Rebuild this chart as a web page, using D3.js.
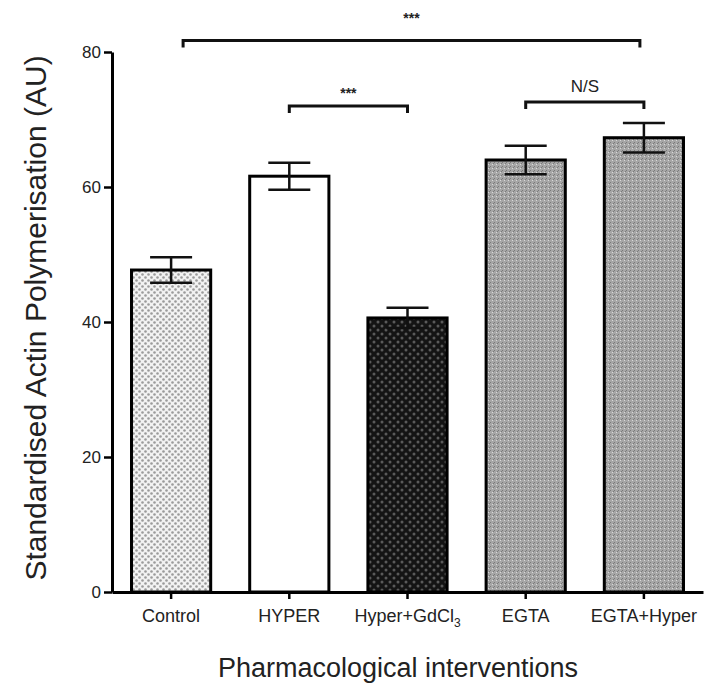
<!DOCTYPE html>
<html>
<head>
<meta charset="utf-8">
<script src="https://cdn.jsdelivr.net/npm/d3@7"></script>
<style>
  body { margin: 0; background: #fff; }
  svg text { font-family: "Liberation Sans", Arial, sans-serif; fill: #222; }
</style>
</head>
<body>
<div id="chart"></div>
<script>
// 数据
const categories = ['Control', 'HYPER', 'Hyper+GdCl3', 'EGTA', 'EGTA+Hyper'];
const means = [47.7, 61.6, 40.6, 64.0, 67.3];
const sems = [1.9, 2.0, 1.5, 2.1, 2.2];
const yTicks = [0, 20, 40, 60, 80];
// 显著性标记: [起点类别, 终点类别, 文字, y值]
const brackets = [
    ['Control', 'EGTA+Hyper', '***', 81.7],
    ['HYPER', 'Hyper+GdCl3', '***', 72.0],
    ['EGTA', 'EGTA+Hyper', 'N/S', 72.6]
];
const fills = ['url(#p-light)', '#ffffff', 'url(#p-dark)', 'url(#p-grey)', 'url(#p-grey)'];

const width = 712, height = 692;
const svg = d3.select('#chart').append('svg')
    .attr('width', width)
    .attr('height', height);

// 填充图案
const defs = svg.append('defs');
const light = defs.append('pattern').attr('id', 'p-light')
    .attr('width', 6).attr('height', 6).attr('patternUnits', 'userSpaceOnUse');
light.append('rect').attr('width', 6).attr('height', 6).attr('fill', '#f2f2f2');
light.append('circle').attr('cx', 1.5).attr('cy', 1.5).attr('r', 1.3).attr('fill', '#9a9a9a');
light.append('circle').attr('cx', 4.5).attr('cy', 4.5).attr('r', 1.3).attr('fill', '#9a9a9a');

const dark = defs.append('pattern').attr('id', 'p-dark')
    .attr('width', 8).attr('height', 8).attr('patternUnits', 'userSpaceOnUse');
dark.append('rect').attr('width', 8).attr('height', 8).attr('fill', '#141414');
dark.append('circle').attr('cx', 2).attr('cy', 2).attr('r', 1.5).attr('fill', '#5a5a5a');
dark.append('circle').attr('cx', 6).attr('cy', 6).attr('r', 1.5).attr('fill', '#5a5a5a');

const grey = defs.append('pattern').attr('id', 'p-grey')
    .attr('width', 4).attr('height', 4).attr('patternUnits', 'userSpaceOnUse');
grey.append('rect').attr('width', 4).attr('height', 4).attr('fill', '#a6a6a6');
grey.append('rect').attr('x', 0).attr('y', 0).attr('width', 1).attr('height', 1).attr('fill', '#d8d8d8');
grey.append('rect').attr('x', 2).attr('y', 2).attr('width', 1).attr('height', 1).attr('fill', '#7a7a7a');
grey.append('rect').attr('x', 1).attr('y', 3).attr('width', 1).attr('height', 1).attr('fill', '#7a7a7a');

// 比例尺
const x = d3.scaleBand()
    .domain(categories)
    .range([112, 703])
    .paddingInner(0.33)
    .paddingOuter(0.165);

const y = d3.scaleLinear()
    .domain([0, 80])
    .range([592, 52]);

const cx = d => x(d) + x.bandwidth() / 2;

// 柱子
svg.append('g').selectAll('rect')
    .data(categories)
    .join('rect')
    .attr('x', d => x(d))
    .attr('y', (d, i) => y(means[i]))
    .attr('width', x.bandwidth())
    .attr('height', (d, i) => y(0) - y(means[i]))
    .attr('fill', (d, i) => fills[i])
    .attr('stroke', '#000')
    .attr('stroke-width', 3);

// 误差线
const capW = 21;
const err = svg.append('g').attr('stroke', '#111').attr('stroke-width', 2.5);
categories.forEach((c, i) => {
    const hi = y(means[i] + sems[i]), lo = y(means[i] - sems[i]);
    err.append('line').attr('x1', cx(c)).attr('x2', cx(c)).attr('y1', hi).attr('y2', lo);
    err.append('line').attr('x1', cx(c) - capW).attr('x2', cx(c) + capW).attr('y1', hi).attr('y2', hi);
    err.append('line').attr('x1', cx(c) - capW).attr('x2', cx(c) + capW).attr('y1', lo).attr('y2', lo);
});

// Y 轴
const yAxis = svg.append('g')
    .attr('transform', 'translate(112,0)')
    .call(d3.axisLeft(y).tickValues(yTicks).tickSize(8).tickPadding(3).tickSizeOuter(0));
yAxis.select('.domain').attr('stroke', '#000').attr('stroke-width', 3);
yAxis.selectAll('.tick line').attr('stroke', '#000').attr('stroke-width', 2.5);
yAxis.selectAll('.tick text').attr('font-size', 17).attr('fill', '#222')
    .attr('font-family', '"Liberation Sans", Arial, sans-serif');

// X 轴
const xAxis = svg.append('g')
    .attr('transform', 'translate(0,592)')
    .call(d3.axisBottom(x).tickSize(7).tickPadding(6).tickSizeOuter(0)
        .tickFormat(() => ''));
xAxis.select('.domain').attr('stroke', '#000').attr('stroke-width', 3);
xAxis.selectAll('.tick line').attr('stroke', '#000').attr('stroke-width', 2.5);

// X 轴文字 (GdCl3 带下标)
xAxis.selectAll('.tick').append('text')
    .attr('y', 30)
    .attr('text-anchor', 'middle')
    .attr('font-size', 18)
    .attr('fill', '#222')
    .each(function (d) {
        const t = d3.select(this);
        if (d === 'Hyper+GdCl3') {
            t.append('tspan').text('Hyper+GdCl');
            t.append('tspan').text('3').attr('font-size', 12).attr('dy', 5);
        } else {
            t.text(d);
        }
    });

// 显著性括号 (最上方括号两端略向内收)
const br = svg.append('g');
brackets.forEach(([a, b, label, v], k) => {
    const yy = y(v);
    const x1 = cx(a) + (k === 0 ? 12 : 0);
    const x2 = cx(b) - (k === 0 ? 4 : 0);
    br.append('path')
        .attr('d', `M${x1},${yy + 7}V${yy}H${x2}V${yy + 7}`)
        .attr('fill', 'none')
        .attr('stroke', '#111')
        .attr('stroke-width', 3);
    br.append('text')
        .attr('x', (x1 + x2) / 2)
        .attr('y', label === 'N/S' ? yy - 10 : (k === 0 ? yy - 18 : yy - 8))
        .attr('text-anchor', 'middle')
        .attr('font-size', label === 'N/S' ? 17 : 14)
        .attr('font-weight', label === 'N/S' ? 'normal' : 'bold')
        .text(label);
});

// 轴标题
svg.append('text')
    .attr('transform', 'translate(46,318) rotate(-90)')
    .attr('text-anchor', 'middle')
    .attr('font-size', 30)
    .text('Standardised Actin Polymerisation (AU)');

svg.append('text')
    .attr('x', 398)
    .attr('y', 677)
    .attr('text-anchor', 'middle')
    .attr('font-size', 27)
    .text('Pharmacological interventions');
</script>
</body>
</html>
